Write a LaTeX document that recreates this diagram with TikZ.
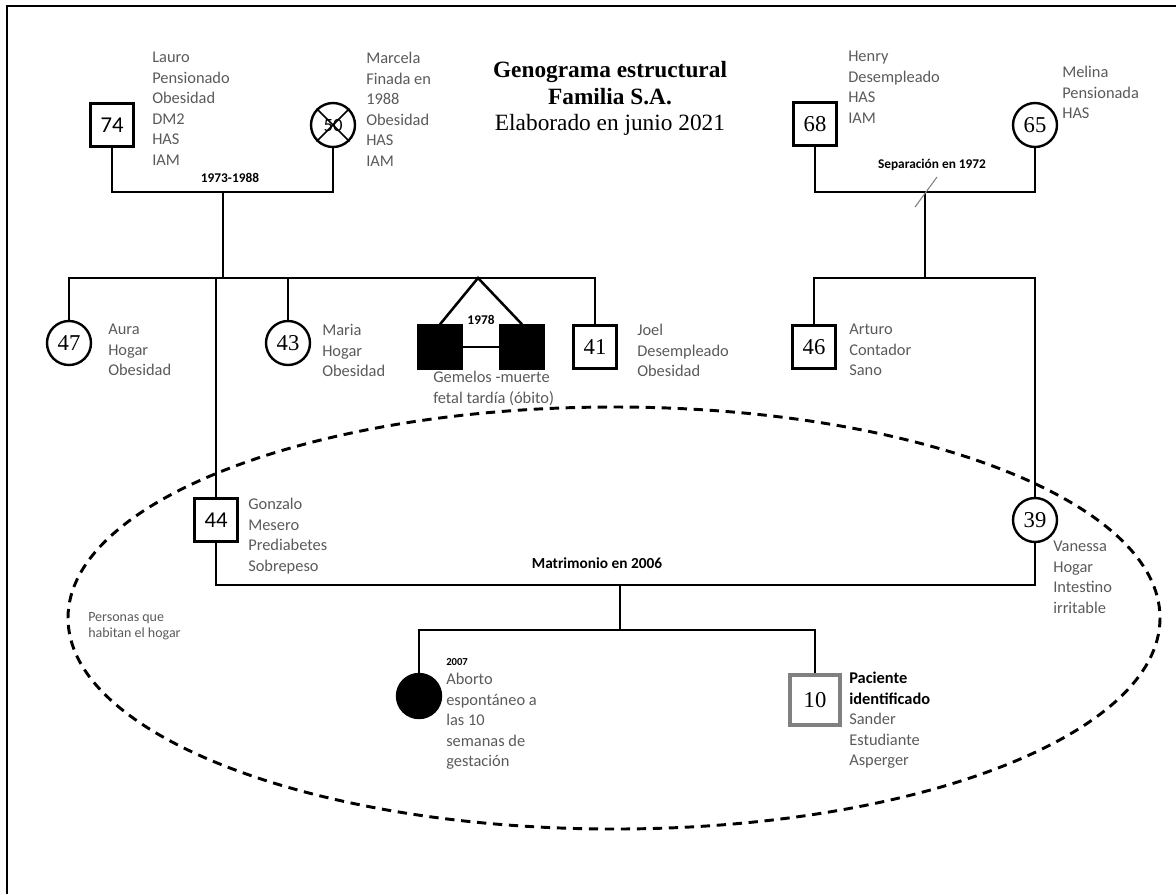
\documentclass[tikz,border=0pt]{standalone}
\usepackage{fontspec}
\setmainfont{Liberation Serif}
\newfontfamily\calibri{Carlito}
\usetikzlibrary{shapes,arrows}
\definecolor{infogray}{HTML}{5A5A5A}
\tikzset{
  person/.style={draw, line width=1.8pt, inner sep=0pt, font=\fontsize{17}{17}\selectfont},
  male/.style={person, rectangle, minimum size=32.25pt},
  female/.style={person, circle, minimum size=33pt},
  dead/.style={fill=black},
  info/.style={anchor=north west, inner sep=0pt, align=left, text=infogray, font=\calibri\fontsize{12.3}{15.4}\selectfont},
  year/.style={anchor=base, inner sep=0pt, font=\calibri\bfseries\fontsize{10}{12}\selectfont},
  link/.style={line width=1.9pt},
}
\begin{document}
\begin{tikzpicture}[x=0.75pt,y=-0.75pt]
\useasboundingbox (0,0) rectangle (1176,894);
\draw [line width=2pt] (1176,6) -- (7,6) -- (7,894);
\node[align=center, anchor=north, inner sep=0pt, font=\fontsize{17.5}{20}\selectfont] (title) at (610,61) {\textbf{Genograma estructural}\\\textbf{Familia S.A.}\\Elaborado en junio 2021};
% people living in the house
\draw [line width=2.2pt, dash pattern=on 7pt off 5pt] (614,618) ellipse [x radius=546, y radius=211];
\node[info, font=\calibri\fontsize{10.5}{12.5}\selectfont] (hogar) at (88,612) {Personas que\\habitan el hogar};
% father's parents
\node[male] (lauro) at (112,125) {\calibri 74};
\node[female] (marcela) at (333,125) {\calibri\fontsize{14}{14}\selectfont 50};
\draw [line width=1.3pt] (marcela.north west) -- (marcela.south east) (marcela.north east) -- (marcela.south west);
\node[info] (lauroinfo) at (152,52) {Lauro\\Pensionado\\Obesidad\\DM2\\HAS\\IAM};
\node[info] (marcelainfo) at (366,52) {Marcela\\Finada en\\1988\\Obesidad\\HAS\\IAM};
\coordinate (m1) at (223,192);
\coordinate (s1) at (223,278);
\draw [link] (lauro.south) |- (m1) -| (marcela.south);
\draw [link] (m1) -- (s1);
\node[year] (y1) at (230,182) {1973-1988};
% their children
\node[female] (aura) at (69,343) {47};
\node[female] (maria) at (288,343) {43};
\node[male, dead] (twina) at (440,347) {};
\node[male, dead] (twinb) at (522,347) {};
\node[male] (joel) at (595,347) {41};
\node[male] (gonzalo) at (216,520) {\calibri 44};
\node[info] (aurainfo) at (108,324) {Aura\\Hogar\\Obesidad};
\node[info] (mariainfo) at (322,324) {Maria\\Hogar\\Obesidad};
\node[info] (twininfo) at (433,371) {Gemelos -muerte\\fetal tardía (óbito)};
\node[info] (joelinfo) at (637,324) {Joel\\Desempleado\\Obesidad};
\node[info] (gonzaloinfo) at (248,498) {Gonzalo\\Mesero\\Prediabetes\\Sobrepeso};
\draw [link] (aura.north) |- (s1) -| (joel.north);
\draw [link] (maria.north) -- (maria.north |- s1);
\draw [link] (gonzalo.north) -- (gonzalo.north |- s1);
\coordinate (tw) at (478,278);
\draw [link] (twina.north) -- (tw) -- (twinb.north);
\draw [link] (twina) -- (twinb);
\node[year] (y2) at (481,324) {1978};
% mother's parents
\node[male] (henry) at (815,124) {68};
\node[female] (melina) at (1035,125) {65};
\node[info] (henryinfo) at (848,51) {Henry\\Desempleado\\HAS\\IAM};
\node[info] (melinainfo) at (1062,66) {Melina\\Pensionada\\HAS};
\coordinate (m2) at (925,192);
\coordinate (s2) at (925,278);
\draw [link] (henry.south) |- (m2) -| (melina.south);
\draw [link] (m2) -- (s2);
\draw [gray, line width=0.8pt] (m2) ++(-10,15) -- ++(22,-30);
\node[year] (y3) at (932,168) {Separación en 1972};
\node[male] (arturo) at (814,347) {46};
\node[female] (vanessa) at (1035,520) {39};
\node[info] (arturoinfo) at (849,324) {Arturo\\Contador\\Sano};
\node[info] (vanessainfo) at (1053,541) {Vanessa\\Hogar\\Intestino\\irritable};
\draw [link] (arturo.north) |- (s2) -| (vanessa.north);
% marriage and children
\coordinate (m3) at (620,585);
\coordinate (s3) at (620,630);
\draw [link] (gonzalo.south) |- (m3) -| (vanessa.south);
\draw [link] (m3) -- (s3);
\node[year, font=\calibri\bfseries\fontsize{11.5}{14}\selectfont] (y4) at (597,568) {Matrimonio en 2006};
\node[female, dead] (aborto) at (419,696) {};
\node[male, draw=gray, line width=3pt, minimum size=37.5pt] (paciente) at (815,700) {10};
\draw [link] (aborto.north) |- (s3) -| (paciente.north);
\node[year, anchor=base west, font=\calibri\bfseries\fontsize{8}{9}\selectfont] (y5) at (446,665) {2007};
\node[info] (abortoinfo) at (446,673) {Aborto\\espontáneo a\\las 10\\semanas de\\gestación};
\node[info] (pacienteinfo) at (849,672) {\textcolor{black}{\bfseries Paciente}\\\textcolor{black}{\bfseries identificado}\\Sander\\Estudiante\\Asperger};
\end{tikzpicture}
\end{document}
